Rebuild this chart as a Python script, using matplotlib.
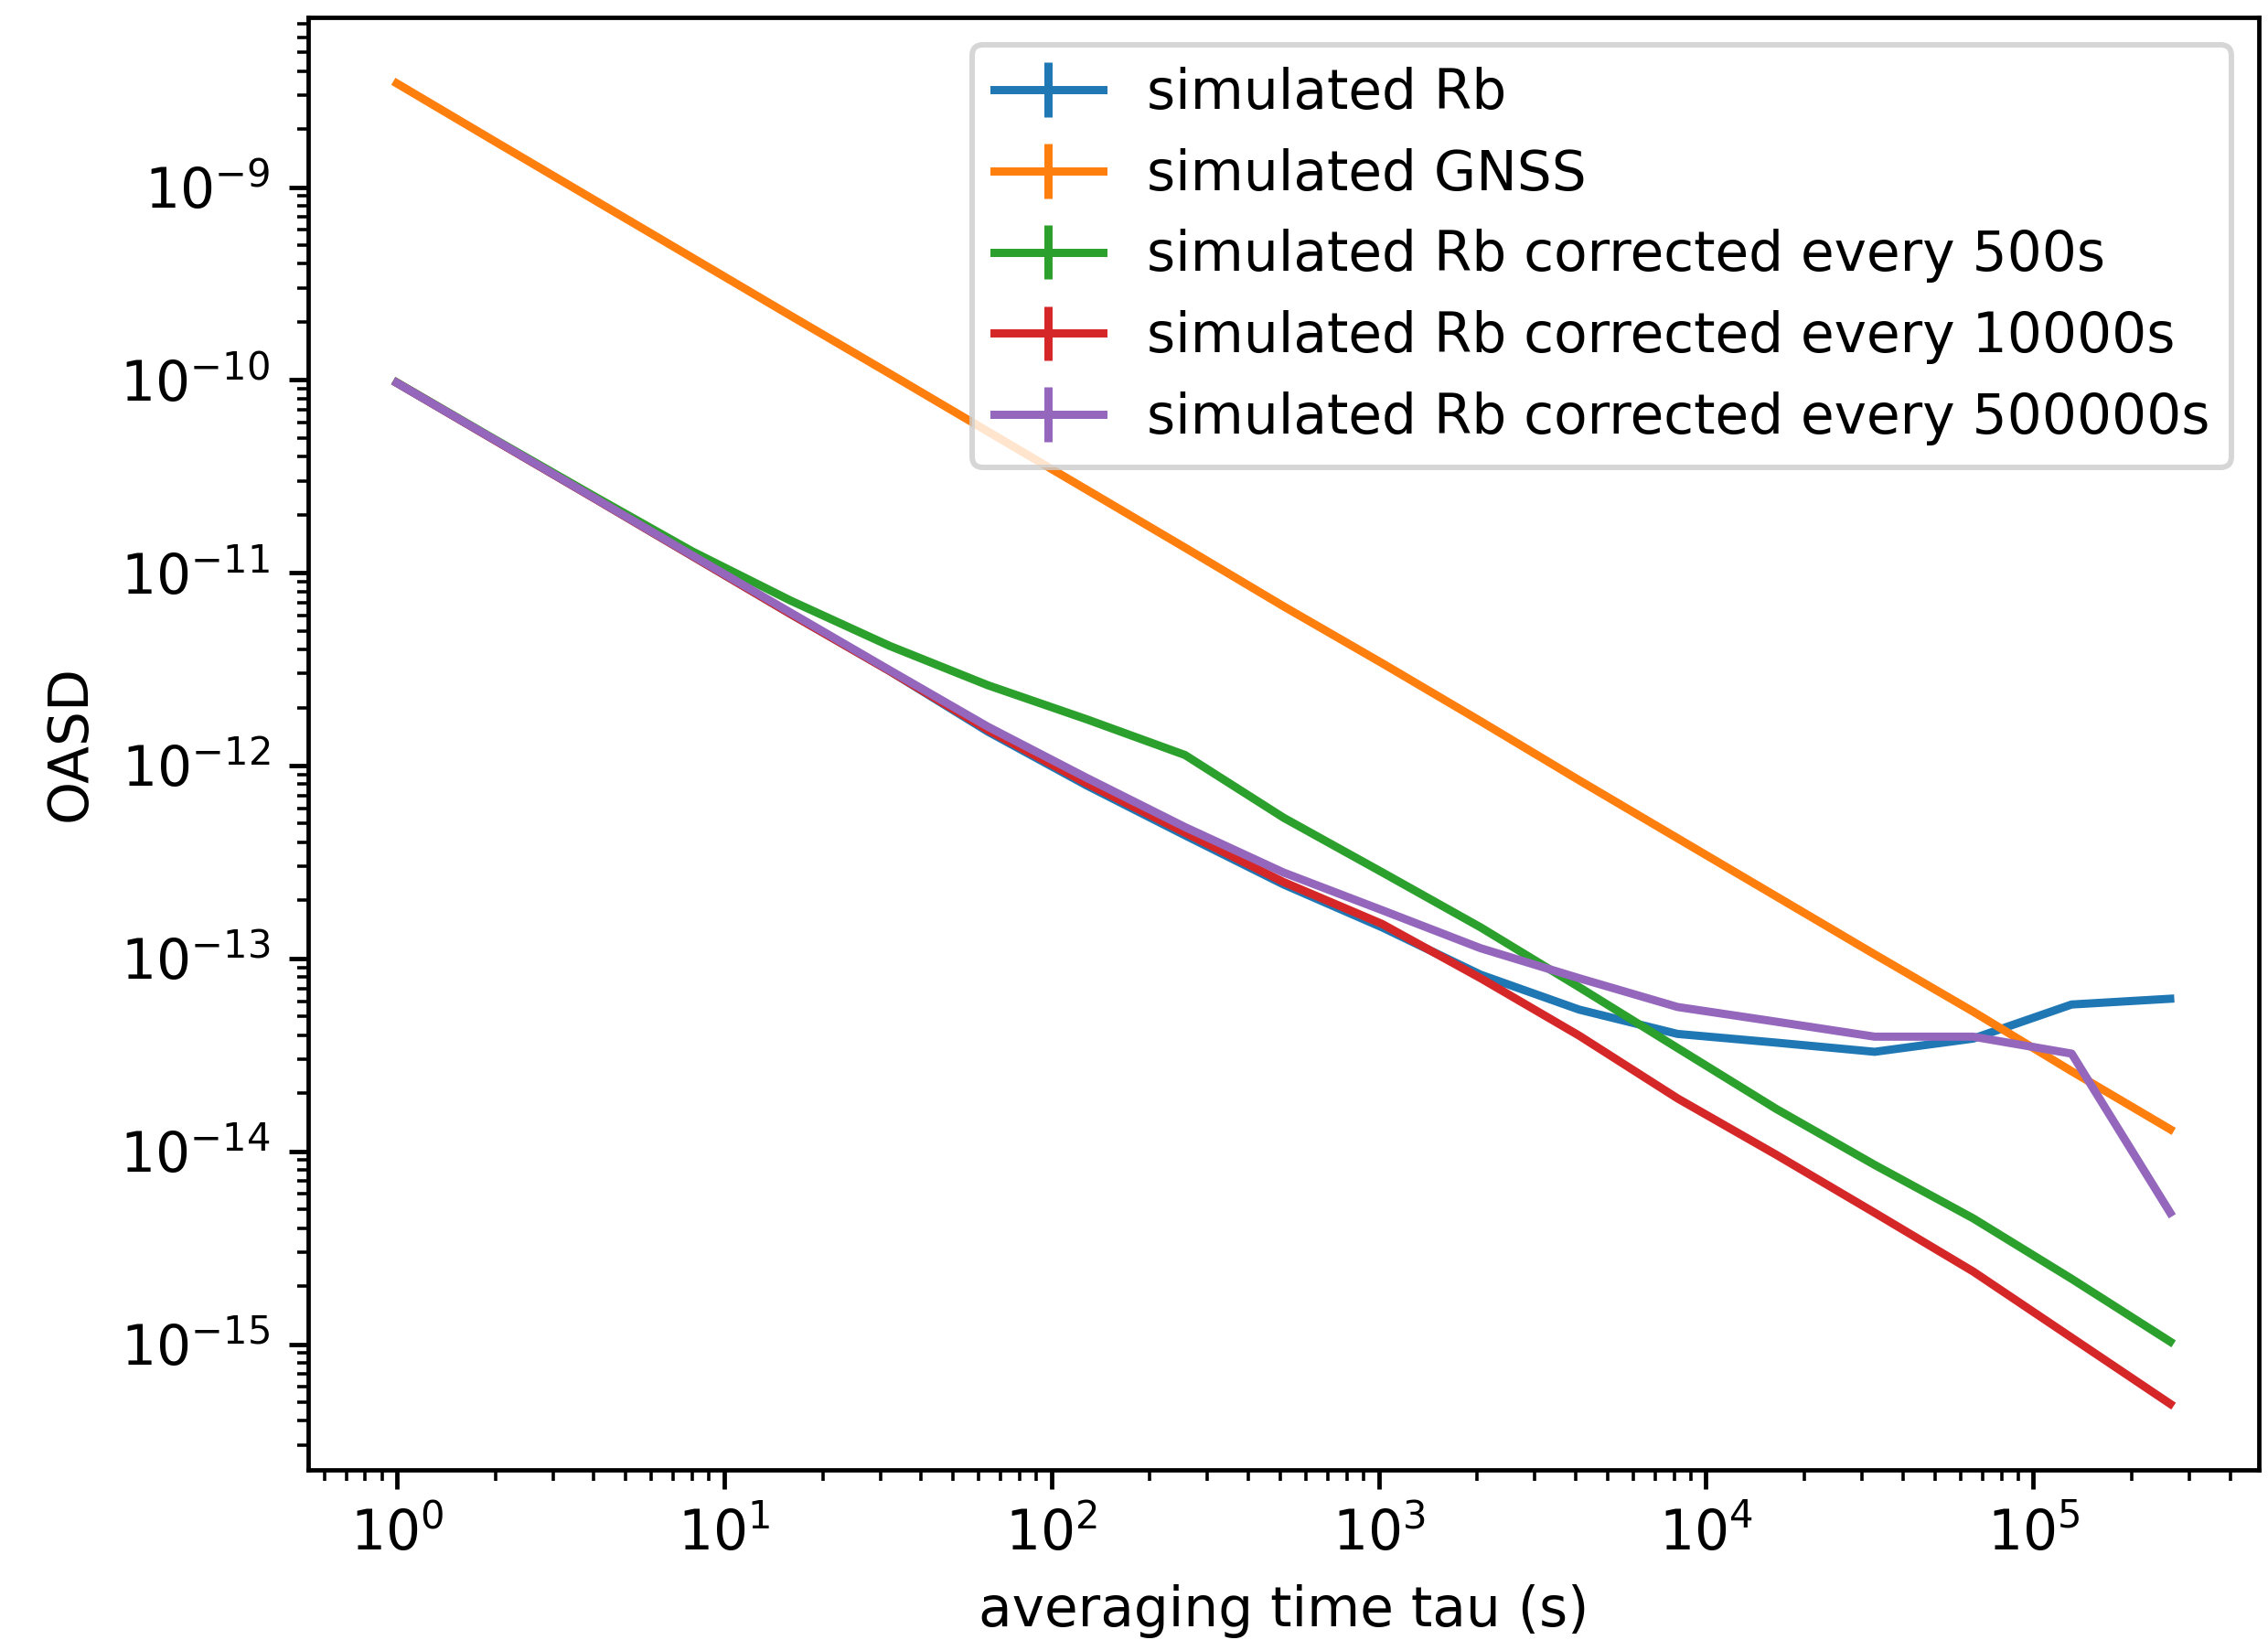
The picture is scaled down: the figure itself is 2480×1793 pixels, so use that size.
import matplotlib
matplotlib.use("Agg")
import matplotlib.pyplot as plt

# averaging times tau (s): 2^0 ... 2^18
taus = [1, 2, 4, 8, 16, 32, 64, 128, 256, 512, 1024, 2048, 4096, 8192,
        16384, 32768, 65536, 131072, 262144]

# overlapping Allan deviation
oasd_rb = [9.66e-11, 4.85e-11, 2.44e-11, 1.22e-11, 6.1e-12, 3.1e-12, 1.5e-12,
           7.9e-13, 4.35e-13, 2.42e-13, 1.45e-13, 8.24e-14, 5.43e-14, 4.06e-14,
           3.66e-14, 3.28e-14, 3.84e-14, 5.77e-14, 6.18e-14]
oasd_gnss = [3.45e-9, 1.72e-9, 8.6e-10, 4.3e-10, 2.15e-10, 1.08e-10, 5.4e-11,
             2.7e-11, 1.35e-11, 6.7e-12, 3.4e-12, 1.7e-12, 8.4e-13, 4.2e-13,
             2.1e-13, 1.05e-13, 5.3e-14, 2.6e-14, 1.3e-14]
oasd_rb_500 = [9.7e-11, 4.9e-11, 2.5e-11, 1.29e-11, 7.16e-12, 4.18e-12, 2.61e-12,
               1.74e-12, 1.135e-12, 5.37e-13, 2.8e-13, 1.45e-13, 7.1e-14, 3.43e-14,
               1.66e-14, 8.5e-15, 4.49e-15, 2.18e-15, 1.03e-15]
oasd_rb_10000 = [9.66e-11, 4.85e-11, 2.44e-11, 1.22e-11, 6.1e-12, 3.1e-12, 1.53e-12,
                 8.1e-13, 4.49e-13, 2.49e-13, 1.51e-13, 7.9e-14, 3.98e-14, 1.88e-14,
                 9.6e-15, 4.8e-15, 2.38e-15, 1.08e-15, 4.9e-16]
oasd_rb_500000 = [9.66e-11, 4.87e-11, 2.45e-11, 1.23e-11, 6.2e-12, 3.13e-12, 1.59e-12,
                  8.65e-13, 4.8e-13, 2.79e-13, 1.78e-13, 1.13e-13, 7.9e-14, 5.6e-14,
                  4.7e-14, 3.93e-14, 3.93e-14, 3.21e-14, 4.8e-15]

# error bars are too small to see in the reference
yerr_zero = [0.0] * len(taus)

series = [
    (oasd_rb, "simulated Rb"),
    (oasd_gnss, "simulated GNSS"),
    (oasd_rb_500, "simulated Rb corrected every 500s"),
    (oasd_rb_10000, "simulated Rb corrected every 10000s"),
    (oasd_rb_500000, "simulated Rb corrected every 500000s"),
]

DPI = 430
fig = plt.figure(figsize=(2480 / DPI, 1793 / DPI), dpi=DPI)
ax = fig.add_axes([337 / 2480, 186 / 1793, 2133 / 2480, 1588 / 1793])

for values, label in series:
    ax.errorbar(taus, values, yerr=yerr_zero, label=label)

ax.set_xscale("log")
ax.set_yscale("log")
ax.set_xlabel("averaging time tau (s)")
ax.set_ylabel("OASD")
ax.legend(loc="upper right")

fig.savefig("out.png", dpi=DPI)
